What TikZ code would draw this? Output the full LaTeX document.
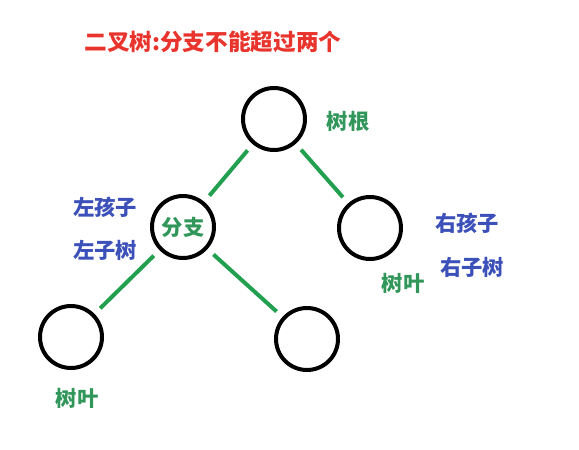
\documentclass[tikz,border=0pt]{standalone}
\usepackage{fontspec}
\newfontfamily\cjk{Noto Sans CJK SC}
\usepackage{xcolor}
\definecolor{titlered}{RGB}{232,52,44}
\definecolor{branchgreen}{RGB}{34,160,80}
\definecolor{labelgreen}{RGB}{48,150,90}
\definecolor{labelblue}{RGB}{60,80,185}

\begin{document}
\begin{tikzpicture}[x=0.75pt,y=0.75pt,yscale=-1,xscale=1,
  treenode/.style={draw=black, circle, line width=3pt, minimum size=46.5pt, inner sep=0pt},
  branch/.style={draw=branchgreen, line width=3pt, shorten >=6pt, shorten <=6pt},
  greenlabel/.style={text=labelgreen, font=\cjk\bfseries\fontsize{16}{16}\selectfont, inner sep=0pt},
  bluelabel/.style={text=labelblue, font=\cjk\bfseries\fontsize{16}{16}\selectfont, inner sep=0pt}]
\useasboundingbox (0,0) rectangle (579,450);

%Title
\node [text=titlered, font=\cjk\bfseries\fontsize{17}{17}\selectfont, inner sep=0pt] (title) at (213,42) {二叉树:分支不能超过两个};

%Circles
\node [treenode] (root) at (274,119) {};
\node [treenode] (left) at (183,227) {};
\node [treenode] (right) at (370,228) {};
\node [treenode] (leafl) at (71,337) {};
\node [treenode] (leafr) at (307,339) {};

%Straight Lines
\draw [branch] (root) -- (left) ;
\draw [branch] (root) -- (right) ;
\draw [branch] (left) -- (leafl) ;
\draw [branch] (left) -- (leafr) ;

%Labels
\node [greenlabel] (rootlbl) at (348,121) {树根};
\node [greenlabel] (branchlbl) at (left) {分支};
\node [bluelabel] (lchild) at (105,207) {左孩子};
\node [bluelabel] (lsub) at (105,250) {左子树};
\node [bluelabel] (rchild) at (467,223) {右孩子};
\node [bluelabel] (rsub) at (472,267) {右子树};
\node [greenlabel] (leaflbla) at (403,283) {树叶};
\node [greenlabel] (leaflblb) at (77,398) {树叶};
\end{tikzpicture}
\end{document}
